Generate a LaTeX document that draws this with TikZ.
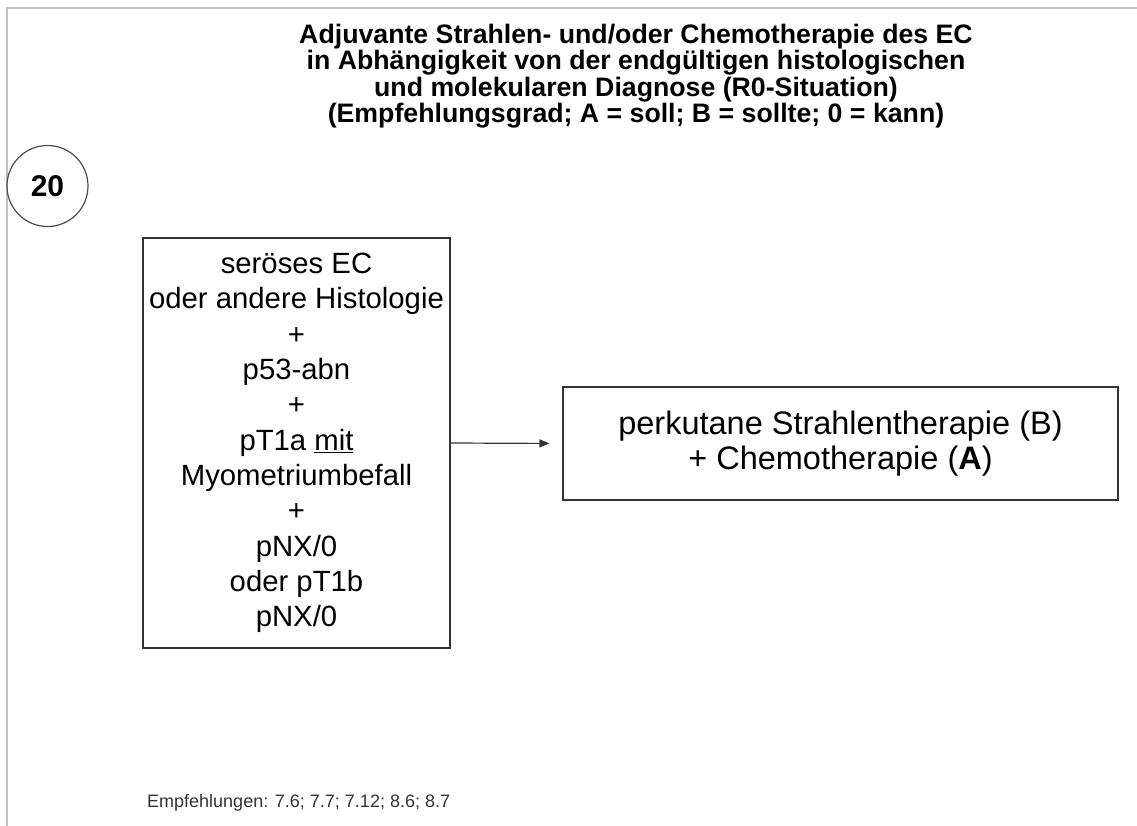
\documentclass[tikz,border=0pt]{standalone}
\usepackage{fontspec}
\setmainfont{Liberation Sans}
\usetikzlibrary{arrows.meta}

\begin{document}
\begin{tikzpicture}[x=1pt,y=-1pt,
    frameline/.style={draw=black!25,line width=2pt},
    numcircle/.style={circle,draw=black!70,line width=1.2pt,minimum size=81pt,inner sep=0pt,font=\fontsize{30}{30}\selectfont\bfseries},
    titletext/.style={align=center,inner sep=0pt,font=\fontsize{26.7}{26.4}\selectfont\bfseries},
    diagbox/.style={draw=black!80,line width=1.2pt,align=center,inner sep=0pt,font=\fontsize{29.3}{35.3}\selectfont},
    flow/.style={draw=black!80,line width=1.2pt,-{Triangle[length=10pt,width=8pt]},shorten >=13pt}]
  \useasboundingbox (0,0) rectangle (1137,826);
  \draw [frameline] (7,826)--(7,8)--(1137,8);
  \node [numcircle] (nr) at (47.5,186) {20};
  \node [titletext] (title) at (636,76) {Adjuvante Strahlen- und/oder Chemotherapie des EC\\
    in Abhängigkeit von der endgültigen histologischen\\
    und molekularen Diagnose (R0-Situation)\\
    (Empfehlungsgrad; A = soll; B = sollte; 0 = kann)};
  \node [diagbox,minimum width=307pt,minimum height=410pt] (diag) at (296.5,443) {seröses EC\\
    oder andere Histologie\\ +\\ p53-abn\\ +\\ pT1a \underline{mit}\\ Myometriumbefall\\ +\\
    pNX/0\\ oder pT1b\\ pNX/0};
  \node [diagbox,minimum width=555pt,minimum height=113pt,font=\fontsize{32.5}{35}\selectfont] (ther) at (840.5,443.5)
    {perkutane Strahlentherapie (B)\\ + Chemotherapie (\textbf{A})};
  \draw [flow] (diag.east) -- (ther.west);
  \node [anchor=base west,inner sep=0pt,font=\fontsize{18}{20}\selectfont,text=black!80] (empf) at (147,807) {Empfehlungen: 7.6; 7.7; 7.12; 8.6; 8.7};
\end{tikzpicture}
\end{document}
